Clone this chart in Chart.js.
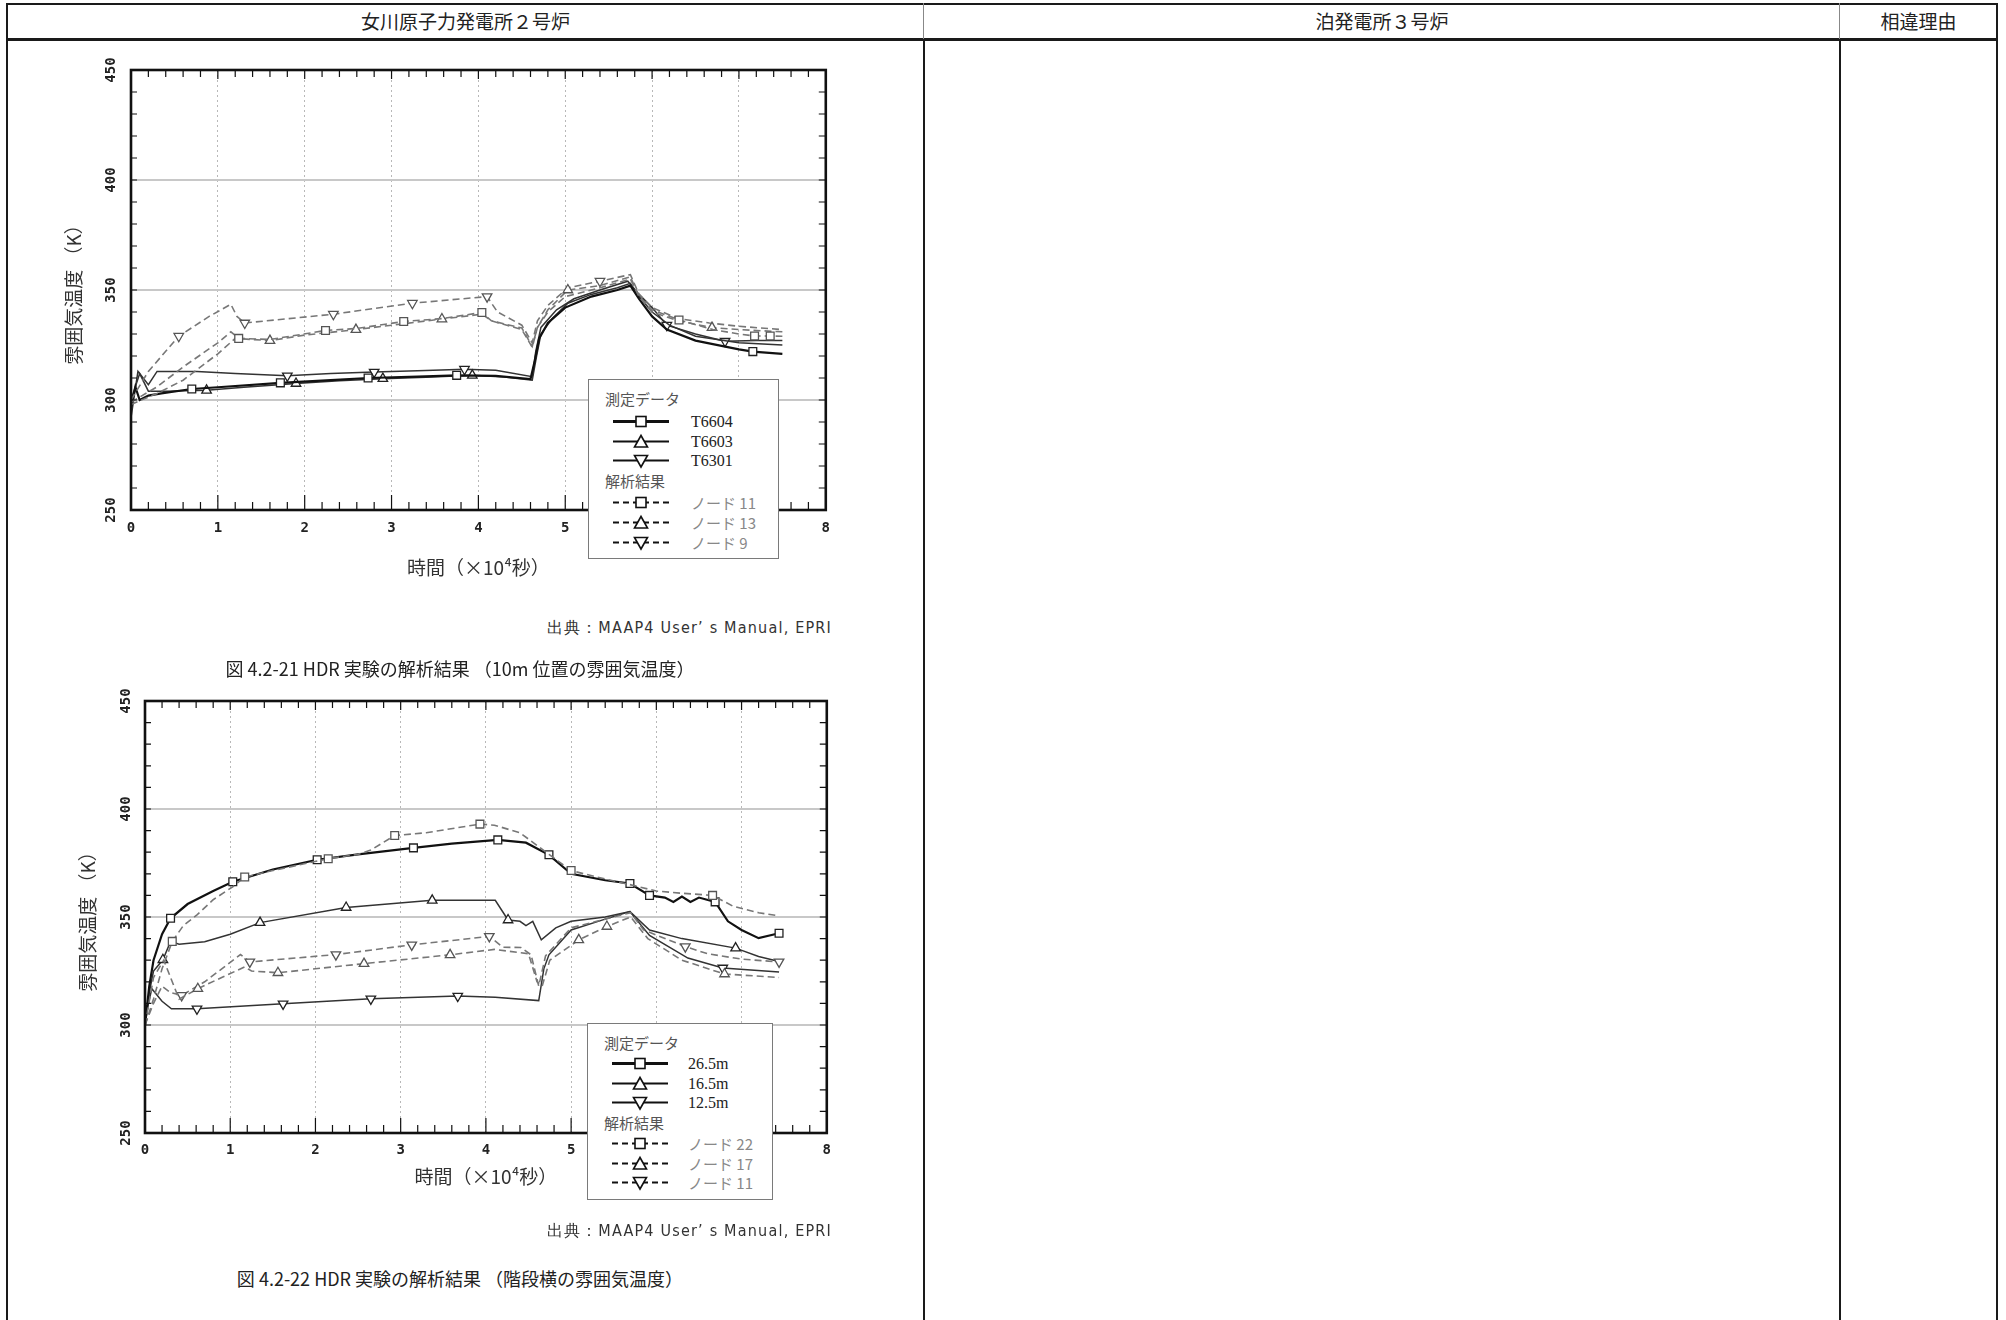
<!DOCTYPE html>
<html lang="ja">
<head>
<meta charset="utf-8">
<script src="https://cdn.jsdelivr.net/npm/chart.js@4.4.1/dist/chart.umd.min.js"></script>
<style>
html, body { margin: 0; padding: 0; background: #fff; }
body { width: 2006px; height: 1320px; position: relative; overflow: hidden; font-family: "Noto Sans CJK JP", sans-serif; color: #222; }
.ln { position: absolute; background: #1a1a1a; }
.hd { position: absolute; top: 7px; height: 28px; line-height: 28px; font-size: 19px; text-align: center; }
.cv { position: absolute; }
.legend { position: absolute; border: 1.5px solid #7a7a7a; background: #fff; box-sizing: border-box; }
.legend .row { position: absolute; height: 20px; line-height: 20px; white-space: nowrap; }
.legend .head { font-size: 15px; color: #555; left: 16px; }
.legend .sym { left: 24px; }
.legend .sym svg { display: block; margin-top: 1px; }
.legend .ser { font-family: "Liberation Serif", serif; font-size: 16px; color: #222; }
.legend .ana { font-size: 15px; color: #888; }
.src { position: absolute; font-family: "Liberation Sans Narrow", "DejaVu Sans Condensed", sans-serif; font-size: 16px; letter-spacing: 1.2px; color: #333; white-space: nowrap; }
.cap { position: absolute; font-size: 18px; color: #222; white-space: nowrap; text-align: center; }
</style>
</head>
<body>

<!-- table lines -->
<div class="ln" style="left:6px;top:3px;width:1992px;height:2px"></div>
<div class="ln" style="left:6px;top:38px;width:1992px;height:3px"></div>
<div class="ln" style="left:6px;top:3px;width:2px;height:1317px"></div>
<div class="ln" style="left:923px;top:3px;width:1px;height:36px;background:#888"></div>
<div class="ln" style="left:923px;top:40px;width:2px;height:1280px"></div>
<div class="ln" style="left:1839px;top:3px;width:1px;height:36px;background:#888"></div>
<div class="ln" style="left:1839px;top:40px;width:2px;height:1280px"></div>
<div class="ln" style="left:1996px;top:3px;width:2px;height:1317px"></div>

<div class="hd" style="left:8px;width:915px">女川原子力発電所２号炉</div>
<div class="hd" style="left:925px;width:914px">泊発電所３号炉</div>
<div class="hd" style="left:1841px;width:155px">相違理由</div>

<canvas id="chart1" class="cv" width="800" height="560" style="left:40px;top:40px;width:800px;height:560px"></canvas>
<canvas id="chart2" class="cv" width="800" height="560" style="left:40px;top:670px;width:800px;height:560px"></canvas>

<div id="legend1" class="legend" style="left:588px;top:379px;width:191px;height:180px"></div>
<div id="legend2" class="legend" style="left:587px;top:1023px;width:186px;height:177px"></div>

<div class="src" style="right:1174px;top:618px">出典：MAAP4 User’ s Manual, EPRI</div>
<div class="cap" style="left:160px;width:600px;top:655px">図 4.2-21 HDR 実験の解析結果 （10m 位置の雰囲気温度）</div>
<div class="src" style="right:1174px;top:1221px">出典：MAAP4 User’ s Manual, EPRI</div>
<div class="cap" style="left:160px;width:600px;top:1265px">図 4.2-22 HDR 実験の解析結果 （階段横の雰囲気温度）</div>

<script>
// time in 10^4 s, temperature in K
const yTitle = '雰囲気温度 （K）';
const xTitle = '時間（×10⁴秒）';
const legendHeads = ['測定データ', '解析結果'];

// --- 図4.2-21 (10m 位置) ---
const c1Labels = ['T6604', 'T6603', 'T6301', 'ノード 11', 'ノード 13', 'ノード 9'];

const c1T6604T = [0, 0.05, 0.1, 0.2, 0.35, 0.7, 1.0, 1.72, 2.3, 2.73, 3.3, 3.75, 4.2, 4.6, 4.65, 4.7, 4.8, 5.0, 5.3, 5.6, 5.75, 5.85, 6.0, 6.17, 6.5, 7.0, 7.16, 7.5];
const c1T6604K = [297, 306, 300, 302, 303, 305, 305.8, 307.8, 309, 310, 310.6, 311.2, 311, 309.5, 318, 328, 335, 342, 347, 350, 352, 346, 338, 332, 327, 323, 322, 321];
const c1T6604Marks = [0.7, 1.72, 2.73, 3.75, 7.16];

const c1T6603T = [0, 0.1, 0.2, 0.4, 0.87, 1.3, 1.9, 2.4, 2.9, 3.4, 3.93, 4.3, 4.62, 4.67, 4.72, 4.85, 5.03, 5.3, 5.6, 5.75, 5.85, 6.0, 6.2, 6.5, 7.0, 7.5];
const c1T6603K = [300, 312, 304, 304, 304.4, 305.8, 307.5, 308.7, 309.7, 310.3, 311.2, 310.5, 309, 320, 330, 337, 344, 348, 351, 353, 347, 340, 334, 329, 326, 325];
const c1T6603Marks = [0.87, 1.9, 2.9, 3.93];

const c1T6301T = [0, 0.08, 0.2, 0.3, 0.45, 0.76, 1.2, 1.8, 2.3, 2.8, 3.3, 3.84, 4.2, 4.62, 4.66, 4.72, 4.9, 5.1, 5.4, 5.72, 5.85, 6.0, 6.17, 6.5, 6.84, 7.2, 7.5];
const c1T6301K = [292, 313, 307, 313, 313, 313, 312, 311, 312, 312.7, 313.3, 314, 313.5, 310.6, 322, 333, 341, 346, 350, 354, 348, 342, 334, 330, 326.7, 327, 327];
const c1T6301Marks = [1.8, 2.8, 3.84, 6.17, 6.84];

const c1Node11T = [0, 0.3, 0.6, 1.0, 1.15, 1.24, 1.6, 2.24, 2.6, 3.14, 3.58, 4.04, 4.15, 4.5, 4.62, 4.68, 4.8, 5.0, 5.4, 5.75, 5.85, 6.0, 6.31, 6.7, 7.0, 7.18, 7.36, 7.5];
const c1Node11K = [299, 306, 315, 326, 331, 328, 327.5, 331.6, 332.5, 335.7, 337, 339.8, 336, 332.7, 324.4, 333, 340, 347, 351, 355, 347, 341, 336.4, 332, 330, 329.1, 329.1, 329];
const c1Node11Marks = [1.24, 2.24, 3.14, 4.04, 6.31, 7.18, 7.36];

const c1Node13T = [0, 0.3, 0.6, 1.0, 1.2, 1.6, 2.0, 2.59, 3.0, 3.58, 4.04, 4.15, 4.5, 4.62, 4.68, 4.8, 5.03, 5.4, 5.75, 5.85, 6.0, 6.3, 6.69, 7.0, 7.5];
const c1Node13K = [298, 303, 309, 321, 328, 327, 329.5, 332, 334, 336.8, 339, 336, 332, 324, 333, 341, 350, 352, 356, 347, 340, 336, 332.9, 332, 331];
const c1Node13Marks = [1.6, 2.59, 3.58, 5.03, 6.69];

const c1Node9T = [0, 0.2, 0.55, 0.9, 1.15, 1.22, 1.31, 2.33, 3.24, 4.1, 4.22, 4.5, 4.62, 4.68, 4.8, 5.03, 5.4, 5.75, 5.85, 6.0, 6.3, 6.66, 7.0, 7.5];
const c1Node9K = [300, 313, 329, 338, 343.5, 338, 335, 339, 344, 347, 340, 334, 326, 336, 343, 351, 354, 357, 348, 342, 337, 335, 333.5, 332];
const c1Node9Marks = [0.55, 1.31, 2.33, 3.24, 4.1, 5.4];

// --- 図4.2-22 (階段横) ---
const c2Labels = ['26.5m', '16.5m', '12.5m', 'ノード 22', 'ノード 17', 'ノード 11'];

const c2M265T = [0, 0.05, 0.1, 0.2, 0.3, 0.5, 0.8, 1.03, 1.5, 2.02, 2.5, 3.15, 3.6, 4.14, 4.47, 4.74, 5.0, 5.4, 5.69, 5.92, 6.1, 6.2, 6.3, 6.4, 6.5, 6.69, 6.84, 7.0, 7.2, 7.44];
const c2M265K = [300, 318, 330, 342, 349.4, 356, 362, 366.3, 372, 376.5, 379, 382, 384, 385.7, 384.4, 378.8, 370, 367, 365.5, 360, 359, 357, 359.5, 357, 359, 357, 348, 344, 340.2, 342.5];
const c2M265Marks = [0.3, 1.03, 2.02, 3.15, 4.14, 4.74, 5.69, 5.92, 6.69, 7.44];

const c2M165T = [0, 0.05, 0.1, 0.21, 0.3, 0.4, 0.7, 1.0, 1.35, 2.36, 3.37, 4.11, 4.26, 4.4, 4.47, 4.55, 4.65, 4.82, 5.0, 5.4, 5.69, 5.92, 6.3, 6.93, 7.2, 7.44];
const c2M165K = [300, 315, 325, 330.2, 338.7, 337.4, 338.5, 342, 347.4, 354.4, 357.7, 357.7, 348.6, 348, 346, 348, 339.4, 345, 348, 350, 352.5, 344, 340, 335.6, 331.7, 329.4];
const c2M165Marks = [0.21, 1.35, 2.36, 3.37, 4.26, 6.93];

const c2M125T = [0, 0.04, 0.08, 0.2, 0.31, 0.61, 1.62, 2.65, 3.67, 4.11, 4.62, 4.68, 4.74, 5.0, 5.4, 5.69, 5.92, 6.37, 6.78, 7.44];
const c2M125K = [300, 310, 316.8, 311, 307.5, 307.5, 309.8, 312.1, 313.4, 312.9, 311.3, 326, 332.5, 344, 349, 352.5, 341.5, 331, 326.4, 324.5];
const c2M125Marks = [0.61, 1.62, 2.65, 3.67, 6.78];

const c2Node22T = [0, 0.1, 0.2, 0.32, 0.45, 0.61, 0.8, 1.03, 1.17, 1.5, 2.15, 2.5, 2.65, 2.93, 3.3, 3.93, 4.1, 4.4, 4.74, 5.0, 5.3, 5.69, 6.0, 6.3, 6.66, 6.9, 7.2, 7.44];
const c2Node22K = [300, 312, 326, 338.7, 346, 351, 358, 364, 368.5, 371.5, 377, 379, 381, 387.7, 389, 393, 392.5, 389, 379, 371.5, 368.5, 365, 362, 361, 360, 355, 352, 350.5];
const c2Node22Marks = [0.32, 1.17, 2.15, 2.93, 3.93, 5.0, 6.66];

const c2Node17T = [0, 0.1, 0.22, 0.3, 0.4, 0.62, 0.9, 1.17, 1.25, 1.56, 2.57, 3.58, 4.1, 4.5, 4.6, 4.66, 4.75, 5.09, 5.42, 5.7, 5.9, 6.3, 6.8, 7.44];
const c2Node17K = [300, 322, 330, 322, 312, 316.8, 322, 326.9, 325, 324.2, 328.4, 332.5, 335, 333, 320, 318, 330, 339.4, 345.6, 350, 340, 330, 323.6, 322];
const c2Node17Marks = [0.62, 1.56, 2.57, 3.58, 5.09, 5.42, 6.8];

const c2Node11T = [0, 0.1, 0.2, 0.3, 0.43, 0.7, 1.0, 1.12, 1.23, 2.24, 3.13, 4.04, 4.2, 4.41, 4.53, 4.62, 4.7, 5.0, 5.3, 5.7, 5.85, 6.34, 6.6, 7.0, 7.44];
const c2Node11K = [300, 310, 318, 315, 313.7, 320, 329, 332.6, 329.2, 332.6, 337.1, 341, 336, 335.9, 332.5, 318, 332, 345, 348, 352, 344, 336.3, 333, 330.5, 329.2];
const c2Node11Marks = [0.43, 1.23, 2.24, 3.13, 4.04, 6.34, 7.44];

// line styles per series slot (3 measured solid, 3 analysis dashed)
const styles = [
    { marker: 'rect', rot: 0, dashed: false, color: '#111', width: 2.2 },
    { marker: 'triangle', rot: 0, dashed: false, color: '#333', width: 1.5 },
    { marker: 'triangle', rot: 180, dashed: false, color: '#333', width: 1.5 },
    { marker: 'rect', rot: 0, dashed: true, color: '#777', width: 1.6 },
    { marker: 'triangle', rot: 0, dashed: true, color: '#777', width: 1.6 },
    { marker: 'triangle', rot: 180, dashed: true, color: '#777', width: 1.6 }
];

function makeDataset(label, T, K, marks, st) {
    return {
        label: label,
        data: T.map((t, i) => ({ x: t, y: K[i] })),
        borderColor: st.color,
        borderWidth: st.width,
        borderDash: st.dashed ? [7, 4] : [],
        tension: 0,
        pointStyle: st.marker,
        rotation: st.rot,
        pointRadius: ctx => marks.includes(T[ctx.dataIndex]) ? 5.5 : 0,
        pointBackgroundColor: '#fff',
        pointBorderColor: st.dashed ? '#555' : '#222',
        pointBorderWidth: 1.3
    };
}

// frame with minor ticks all around the plot
const framePlugin = {
    id: 'frame',
    afterDatasetsDraw(chart) {
        const { ctx, chartArea: a, scales: { x, y } } = chart;
        ctx.save();
        ctx.strokeStyle = '#111';
        ctx.lineWidth = 1.2;
        ctx.beginPath();
        for (let i = 0; i <= 40; i++) {
            const px = x.getPixelForValue(i / 5);
            const major = i % 5 === 0;
            ctx.moveTo(px, a.bottom);
            ctx.lineTo(px, a.bottom - (major ? 15 : 8));
            ctx.moveTo(px, a.top);
            ctx.lineTo(px, a.top + (major ? 9 : 7));
        }
        for (let v = 250; v <= 450; v += 10) {
            const py = y.getPixelForValue(v);
            ctx.moveTo(a.left, py);
            ctx.lineTo(a.left + 6, py);
            ctx.moveTo(a.right, py);
            ctx.lineTo(a.right - 7, py);
        }
        ctx.stroke();
        ctx.lineWidth = 2.6;
        ctx.strokeRect(a.left, a.top, a.right - a.left, a.bottom - a.top);
        ctx.restore();
    }
};

const tickFont = { family: 'DejaVu Sans Mono', weight: 'bold', size: 14 };
const titleFont = { family: 'Noto Sans CJK JP', size: 19 };

function makeChart(id, datasets, box) {
    return new Chart(document.getElementById(id), {
        type: 'line',
        data: { datasets: datasets },
        options: {
            responsive: false,
            animation: false,
            devicePixelRatio: 1,
            layout: { autoPadding: false, padding: { left: 0, top: box.padTop, right: box.padRight, bottom: 0 } },
            plugins: { legend: { display: false }, tooltip: { enabled: false } },
            scales: {
                x: {
                    type: 'linear', min: 0, max: 8,
                    ticks: { stepSize: 1, padding: box.xTickPad, font: tickFont, color: '#222' },
                    grid: { color: '#b8b8b8', lineWidth: 1, drawTicks: false },
                    border: { display: false, dash: [2, 3] },
                    title: { display: true, text: xTitle, font: titleFont, color: '#333', padding: { top: 0, bottom: box.xTitlePad } },
                    afterFit: s => { s.height = box.xAxisH; }
                },
                y: {
                    min: 250, max: 450,
                    ticks: { stepSize: 50, minRotation: 90, maxRotation: 90, crossAlign: 'center', padding: box.yTickPad, font: tickFont, color: '#222' },
                    grid: { color: '#c8c8c8', lineWidth: 2, drawTicks: false },
                    border: { display: false },
                    title: { display: true, text: yTitle, font: titleFont, color: '#333', padding: { top: box.yTitlePad, bottom: 0 } },
                    afterFit: s => { s.width = box.yAxisW; }
                }
            }
        },
        plugins: [framePlugin]
    });
}

function symbolSvg(st) {
    const dash = st.dashed ? ' stroke-dasharray="6 4"' : '';
    const lw = st.dashed ? 2 : (st.width > 2 ? 2.8 : 1.8);
    let mark;
    if (st.marker === 'rect') {
        mark = '<rect x="23" y="3.5" width="10" height="10" fill="#fff" stroke="#111" stroke-width="1.6"/>';
    } else if (st.rot) {
        mark = '<polygon points="21.5,3.5 34.5,3.5 28,15" fill="#fff" stroke="#111" stroke-width="1.6"/>';
    } else {
        mark = '<polygon points="21.5,14 34.5,14 28,2.5" fill="#fff" stroke="#111" stroke-width="1.6"/>';
    }
    return '<svg width="56" height="17"><line x1="0" y1="8.5" x2="56" y2="8.5" stroke="#111" stroke-width="' + lw + '"' + dash + '/>' + mark + '</svg>';
}

function buildLegend(id, labels, rowsY, textX) {
    const el = document.getElementById(id);
    let html = '<div class="row head" style="top:' + (rowsY[0] - 10) + 'px">' + legendHeads[0] + '</div>';
    html += '<div class="row head" style="top:' + (rowsY[4] - 10) + 'px">' + legendHeads[1] + '</div>';
    labels.forEach((lab, i) => {
        const ry = rowsY[i < 3 ? i + 1 : i + 2] - 10;
        const cls = i < 3 ? 'ser' : 'ana';
        html += '<div class="row sym" style="top:' + ry + 'px">' + symbolSvg(styles[i]) + '</div>';
        html += '<div class="row ' + cls + '" style="left:' + textX + 'px;top:' + ry + 'px">' + lab + '</div>';
    });
    el.innerHTML = html;
}

const c1Sets = [
    makeDataset(c1Labels[3], c1Node11T, c1Node11K, c1Node11Marks, styles[3]),
    makeDataset(c1Labels[4], c1Node13T, c1Node13K, c1Node13Marks, styles[4]),
    makeDataset(c1Labels[5], c1Node9T, c1Node9K, c1Node9Marks, styles[5]),
    makeDataset(c1Labels[0], c1T6604T, c1T6604K, c1T6604Marks, styles[0]),
    makeDataset(c1Labels[1], c1T6603T, c1T6603K, c1T6603Marks, styles[1]),
    makeDataset(c1Labels[2], c1T6301T, c1T6301K, c1T6301Marks, styles[2])
];
const c2Sets = [
    makeDataset(c2Labels[3], c2Node22T, c2Node22K, c2Node22Marks, styles[3]),
    makeDataset(c2Labels[4], c2Node17T, c2Node17K, c2Node17Marks, styles[4]),
    makeDataset(c2Labels[5], c2Node11T, c2Node11K, c2Node11Marks, styles[5]),
    makeDataset(c2Labels[0], c2M265T, c2M265K, c2M265Marks, styles[0]),
    makeDataset(c2Labels[1], c2M165T, c2M165K, c2M165Marks, styles[1]),
    makeDataset(c2Labels[2], c2M125T, c2M125K, c2M125Marks, styles[2])
];

makeChart('chart1', c1Sets, { padTop: 30, padRight: 9, xAxisH: 90, yAxisW: 91, xTickPad: 10, yTickPad: 7, xTitlePad: 21, yTitlePad: 22 });
makeChart('chart2', c2Sets, { padTop: 31, padRight: 7, xAxisH: 97, yAxisW: 105, xTickPad: 9, yTickPad: 6, xTitlePad: 42, yTitlePad: 36 });

buildLegend('legend1', c1Labels, [19, 42, 62, 81, 101, 123, 143, 163], 102);
buildLegend('legend2', c2Labels, [19, 40, 60, 79, 99, 120, 140, 159], 100);
</script>
</body>
</html>
